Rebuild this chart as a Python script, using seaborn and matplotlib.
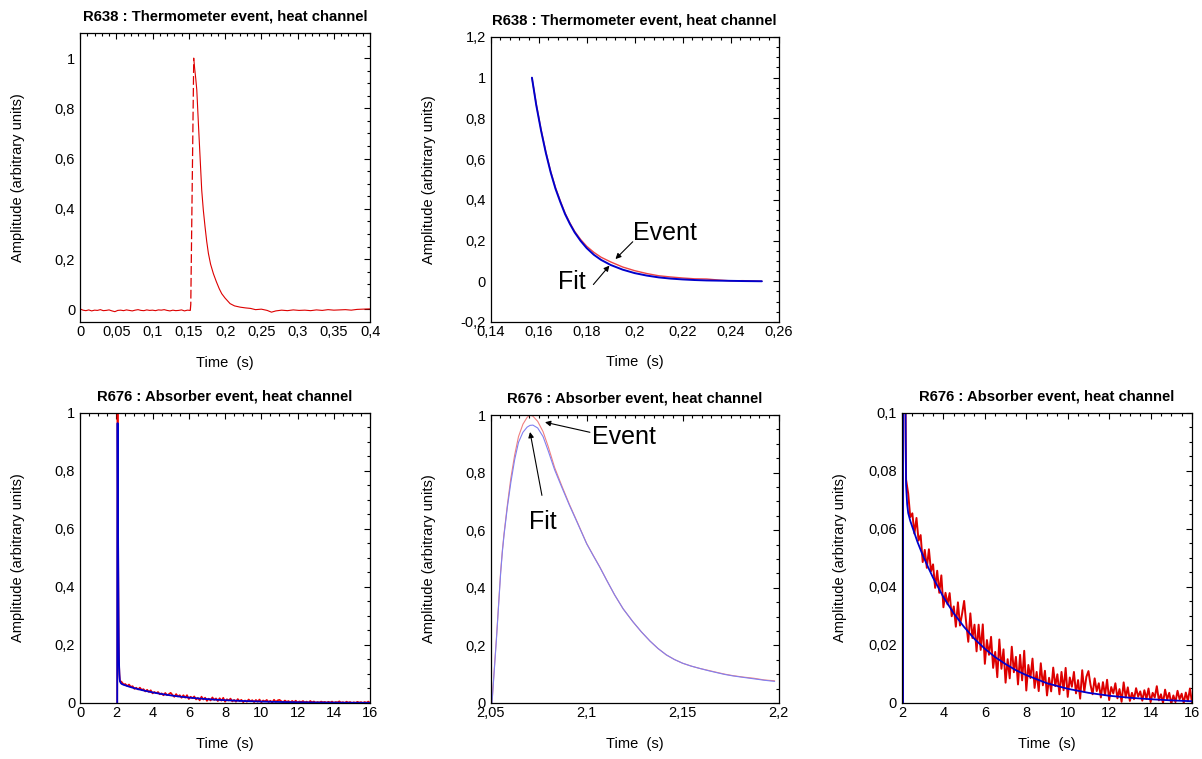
import matplotlib
matplotlib.use("Agg")
import matplotlib.pyplot as plt
from matplotlib.ticker import MultipleLocator, FuncFormatter
import seaborn as sns

# ---- R638 thermometer event (full trace) ----
thermo_base_t = [0, .004, .008, .012, .016, .020, .024, .028, .032, .036, .040, .044, .048,
                 .052, .056, .060, .064, .068, .072, .076, .080, .084, .088, .092, .096, .100,
                 .104, .108, .112, .116, .120, .124, .128, .132, .136, .140, .144, .148, .152]
thermo_base_v = [0.002, -0.003, -0.005, -0.002, -0.006, -0.003, -0.004, -0.001, -0.005, -0.004,
                 -0.002, -0.006, -0.009, -0.004, -0.003, -0.005, -0.002, -0.004, -0.006, -0.003,
                 -0.001, -0.004, -0.005, -0.002, -0.004, -0.003, -0.005, -0.002, -0.003, -0.001,
                 -0.004, -0.006, -0.003, -0.005, -0.004, -0.002, -0.006, -0.003, -0.004]
thermo_rise_t = [0.152, 0.1527, 0.1568]
thermo_rise_v = [-0.004, 0.02, 1.0]
thermo_decay_t = [.1568, .1580, .1595, .1610, .1632, .1655, .1678, .1700, .1724, .1747, .1770,
                  .1800, .1839, .1880, .1920, .1954, .2000, .2069, .2130, .2207, .2280, .2350,
                  .2420, .2500, .2580, .2640, .2700, .2780, .2860, .2940, .3020, .3100, .3180,
                  .3260, .3340, .3420, .3500, .3580, .3660, .3740, .3820, .3900, .4000]
thermo_decay_v = [1.00, .96, .92, .873, .74, .607, .474, .395, .328, .27, .223, .18, .142, .11,
                  .082, .0625, .045, .023, .014, .009, .006, .004, -.001, .001, -.004, -.011,
                  -.006, -.003, -.005, -.002, -.004, -.003, -.005, -.002, -.004, -.001, -.003,
                  -.002, -.001, -.003, .000, .001, .002]

# ---- R638 decay window, event vs fit ----
win_t = [0.1572, 0.159, 0.161, 0.163, 0.165, 0.167, 0.169, 0.171, 0.173, 0.175, 0.1775, 0.180,
         0.183, 0.186, 0.190, 0.195, 0.200, 0.205, 0.210, 0.215, 0.220, 0.225, 0.230, 0.235,
         0.240, 0.245, 0.253]
win_fit = [1.00, 0.865, 0.74, 0.63, 0.535, 0.455, 0.39, 0.33, 0.282, 0.24, 0.198, 0.163, 0.13,
           0.105, 0.08, 0.057, 0.04, 0.028, 0.019, 0.013, 0.009, 0.006, 0.004, 0.003, 0.002,
           0.001, 0.0]
win_event = [1.00, 0.87, 0.745, 0.635, 0.54, 0.46, 0.395, 0.335, 0.287, 0.245, 0.205, 0.172,
             0.142, 0.118, 0.095, 0.07, 0.052, 0.038, 0.027, 0.021, 0.016, 0.012, 0.011, 0.006,
             0.002, 0.003, 0.0]

# ---- R676 absorber event: fast part ----
fast_t = [2.0507, 2.0518, 2.0530, 2.0541, 2.0552, 2.0561, 2.0570, 2.0587, 2.0605, 2.0625,
          2.0645, 2.0668, 2.0690, 2.0705, 2.0720, 2.0745, 2.0773, 2.0800, 2.0833, 2.0870,
          2.0910, 2.0950, 2.1000, 2.1034, 2.1068, 2.1107, 2.1146, 2.1190, 2.1241, 2.1285,
          2.1330, 2.1372, 2.1415, 2.1457, 2.1500, 2.1545, 2.1589, 2.1635, 2.1680, 2.1720,
          2.1762, 2.1815, 2.1870, 2.1925, 2.1979]
fast_event = [0.0, 0.11, 0.225, 0.34, 0.456, 0.53, 0.59, 0.6875, 0.78, 0.861,
              0.925, 0.968, 0.992, 1.0, 0.996, 0.978, 0.942, 0.89, 0.818, 0.755,
              0.69, 0.63, 0.554, 0.513, 0.473, 0.423, 0.375, 0.327, 0.282, 0.247,
              0.215, 0.189, 0.167, 0.151, 0.138, 0.128, 0.120, 0.113, 0.106, 0.100,
              0.095, 0.090, 0.086, 0.080, 0.077]
fast_fit = [0.0, 0.105, 0.22, 0.335, 0.45, 0.525, 0.585, 0.68, 0.765, 0.845,
            0.905, 0.94, 0.958, 0.964, 0.965, 0.955, 0.925, 0.875, 0.81, 0.75,
            0.687, 0.628, 0.553, 0.512, 0.472, 0.423, 0.375, 0.327, 0.282, 0.247,
            0.215, 0.189, 0.167, 0.151, 0.138, 0.128, 0.120, 0.112, 0.105, 0.099,
            0.094, 0.089, 0.084, 0.079, 0.075]

# ---- R676 absorber event: slow tail ----
tail_t = [2.3, 2.4, 2.5, 2.6, 2.7, 2.8, 2.9, 3.0, 3.1, 3.2, 3.3, 3.4, 3.5, 3.6, 3.7, 3.8, 3.9,
          4.0, 4.1, 4.2, 4.3, 4.4, 4.5, 4.6, 4.7, 4.8, 4.9, 5.0, 5.1, 5.2, 5.3, 5.4, 5.5, 5.6,
          5.7, 5.8, 5.9, 6.0, 6.1, 6.2, 6.3, 6.4, 6.5, 6.6, 6.7, 6.8, 6.9, 7.0, 7.1, 7.2, 7.3,
          7.4, 7.5, 7.6, 7.7, 7.8, 7.9, 8.0, 8.1, 8.2, 8.3, 8.4, 8.5, 8.6, 8.7, 8.8, 8.9, 9.0,
          9.1, 9.2, 9.3, 9.4, 9.5, 9.6, 9.7, 9.8, 9.9, 10.0, 10.1, 10.2, 10.3, 10.4, 10.5, 10.6,
          10.7, 10.8, 10.9, 11.0, 11.1, 11.2, 11.3, 11.4, 11.5, 11.6, 11.7, 11.8, 11.9, 12.0,
          12.1, 12.2, 12.3, 12.4, 12.5, 12.6, 12.7, 12.8, 12.9, 13.0, 13.1, 13.2, 13.3, 13.4,
          13.5, 13.6, 13.7, 13.8, 13.9, 14.0, 14.1, 14.2, 14.3, 14.4, 14.5, 14.6, 14.7, 14.8,
          14.9, 15.0, 15.1, 15.2, 15.3, 15.4, 15.5, 15.6, 15.7, 15.8, 15.9, 16.0]
tail_event = [.0722, .0641, .0654, .0584, .0638, .0560, .0579, .0486, .0528, .0466,
              .0530, .0454, .0478, .0397, .0456, .0380, .0440, .0330, .0380, .0340,
              .0379, .0299, .0333, .0263, .0347, .0267, .0307, .0352, .0276, .0211,
              .0309, .0224, .0270, .0178, .0270, .0183, .0271, .0135, .0217, .0166,
              .0228, .0121, .0176, .0089, .0219, .0118, .0185, .0070, .0151, .0085,
              .0194, .0106, .0159, .0064, .0166, .0078, .0180, .0043, .0131, .0086,
              .0153, .0052, .0107, .0041, .0137, .0061, .0111, .0026, .0087, .0040,
              .0122, .0058, .0099, .0030, .0107, .0044, .0121, .0021, .0088, .0056,
              .0107, .0033, .0079, .0015, .0113, .0039, .0090, .0110, .0063, .0030,
              .0085, .0041, .0068, .0019, .0072, .0027, .0080, .0010, .0055, .0033,
              .0068, .0016, .0048, .0004, .0071, .0019, .0054, .0007, .0035, .0013,
              .0051, .0022, .0040, .0008, .0044, .0014, .0050, .0003, .0035, .0019,
              .0058, .0009, .0030, .0000, .0046, .0012, .0035, -.0003, .0026, .0003,
              .0042, .0013, .0032, .0000, .0036, .0007, .0050, .0000]
tail_fit_t = [2.25, 2.3, 2.4, 2.5, 2.75, 3.0, 3.25, 3.5, 4.0, 4.5, 5.0, 5.5, 6.0, 6.5, 7.0,
              7.5, 8.0, 9.0, 10.0, 11.0, 12.0, 13.0, 14.0, 15.0, 16.0]
tail_fit = [.0685, .0655, .0628, .0607, .0555, .0510, .0470, .0432, .0365, .0309, .0262, .0221,
            .0187, .0158, .0134, .0113, .0096, .0068, .0049, .0035, .0025, .0018, .0013, .0009,
            .0006]

abs_t = fast_t + tail_t
abs_event = fast_event + tail_event
abs_fit_t = fast_t + tail_fit_t
abs_fit = fast_fit + tail_fit

RED = "#dd0000"
BLUE = "#0000cc"

sns.set_style("white")
plt.rcParams["font.family"] = ["Liberation Sans", "DejaVu Sans"]
plt.rcParams["text.color"] = "black"
plt.rcParams["axes.labelcolor"] = "black"


def comma(v, pos):
    s = f"{v:g}"
    if s == "-0":
        s = "0"
    return s.replace(".", ",")


def style(ax, title, xlim, ylim, xmaj, xmin, ymaj, ymin):
    ax.set_xlim(*xlim)
    ax.set_ylim(*ylim)
    ax.xaxis.set_major_locator(MultipleLocator(xmaj))
    ax.xaxis.set_minor_locator(MultipleLocator(xmin))
    ax.yaxis.set_major_locator(MultipleLocator(ymaj))
    ax.yaxis.set_minor_locator(MultipleLocator(ymin))
    ax.xaxis.set_major_formatter(FuncFormatter(comma))
    ax.yaxis.set_major_formatter(FuncFormatter(comma))
    ax.tick_params(which="both", direction="in", top=True, right=True, width=0.8,
                   labelsize=10.5, colors="black")
    ax.tick_params(which="major", length=4)
    ax.tick_params(which="minor", length=2)
    ax.tick_params(axis="x", pad=2)
    ax.tick_params(axis="y", pad=3.5)
    for sp in ax.spines.values():
        sp.set_visible(True)
        sp.set_color("black")
        sp.set_linewidth(0.9)
    ax.set_title(title, fontsize=10.7, fontweight="bold", pad=9, color="black")
    ax.set_xlabel("Time  (s)", fontsize=10.5)
    ax.set_ylabel("Amplitude (arbitrary units)", fontsize=10.5)
    ax.xaxis.set_label_coords(0.5, -0.142)
    ax.xaxis.label.set_va("center")
    ax.yaxis.set_label_coords(-0.213, 0.5)
    ax.yaxis.label.set_va("center")


def note(ax, text, xy, xytext, tx, ty, ha):
    ax.annotate("", xy=xy, xytext=xytext,
                arrowprops=dict(arrowstyle="-|>", color="black", lw=0.8,
                                mutation_scale=8, shrinkA=0, shrinkB=0))
    ax.text(tx, ty, text, fontsize=18, ha=ha, va="center")


fig = plt.figure(figsize=(12.02, 7.59), dpi=100)
ax1 = fig.add_axes([0.0666, 0.5758, 0.2413, 0.3808])
ax2 = fig.add_axes([0.4082, 0.5758, 0.2396, 0.3755])
ax3 = fig.add_axes([0.0666, 0.0738, 0.2413, 0.3821])
ax4 = fig.add_axes([0.4082, 0.0738, 0.2396, 0.3794])
ax5 = fig.add_axes([0.7504, 0.0738, 0.2413, 0.3821])

t1 = "R638 : Thermometer event, heat channel"
t2 = "R676 : Absorber event, heat channel"

# panel 1
sns.lineplot(x=thermo_base_t, y=thermo_base_v, ax=ax1, color=RED, lw=0.8,
             estimator=None, sort=False)
sns.lineplot(x=thermo_rise_t, y=thermo_rise_v, ax=ax1, color=RED, lw=0.9,
             linestyle=(0, (7, 2.5)), estimator=None, sort=False)
sns.lineplot(x=thermo_decay_t, y=thermo_decay_v, ax=ax1, color=RED, lw=0.8,
             estimator=None, sort=False)
style(ax1, t1, (0, 0.4), (-0.05, 1.1), 0.05, 0.01, 0.2, 0.05)

# panel 2
sns.lineplot(x=win_t, y=win_event, ax=ax2, color="#ee4444", lw=1.0,
             estimator=None, sort=False)
sns.lineplot(x=win_t, y=win_fit, ax=ax2, color=BLUE, lw=1.4,
             estimator=None, sort=False)
style(ax2, t1, (0.14, 0.26), (-0.2, 1.2), 0.02, 0.004, 0.2, 0.05)
note(ax2, "Event", (0.1920, 0.109), (0.1992, 0.194), 0.1995, 0.238, "left")
note(ax2, "Fit", (0.1895, 0.077), (0.1828, -0.016), 0.1794, -0.006, "right")

# panel 3
sns.lineplot(x=abs_t, y=abs_event, ax=ax3, color="#ee0000", lw=1.2,
             estimator=None, sort=False)
sns.lineplot(x=abs_fit_t, y=abs_fit, ax=ax3, color=BLUE, lw=1.3,
             estimator=None, sort=False)
style(ax3, t2, (0, 16), (0, 1), 2, 0.5, 0.2, 0.05)

# panel 4
sns.lineplot(x=fast_t, y=fast_event, ax=ax4, color="#f08080", lw=0.8,
             estimator=None, sort=False)
sns.lineplot(x=fast_t, y=fast_fit, ax=ax4, color="#8080f0", lw=0.8,
             estimator=None, sort=False)
style(ax4, t2, (2.05, 2.2), (0, 1), 0.05, 0.005, 0.2, 0.05)
note(ax4, "Event", (2.0783, 0.975), (2.1017, 0.94), 2.1030, 0.924, "left")
note(ax4, "Fit", (2.0705, 0.941), (2.0767, 0.721), 2.0770, 0.628, "center")

# panel 5
sns.lineplot(x=abs_t, y=abs_event, ax=ax5, color=RED, lw=1.4,
             estimator=None, sort=False)
sns.lineplot(x=abs_fit_t, y=abs_fit, ax=ax5, color=BLUE, lw=1.3,
             estimator=None, sort=False)
style(ax5, t2, (2, 16), (0, 0.1), 2, 0.5, 0.02, 0.005)

fig.savefig("out.png", dpi=100)
